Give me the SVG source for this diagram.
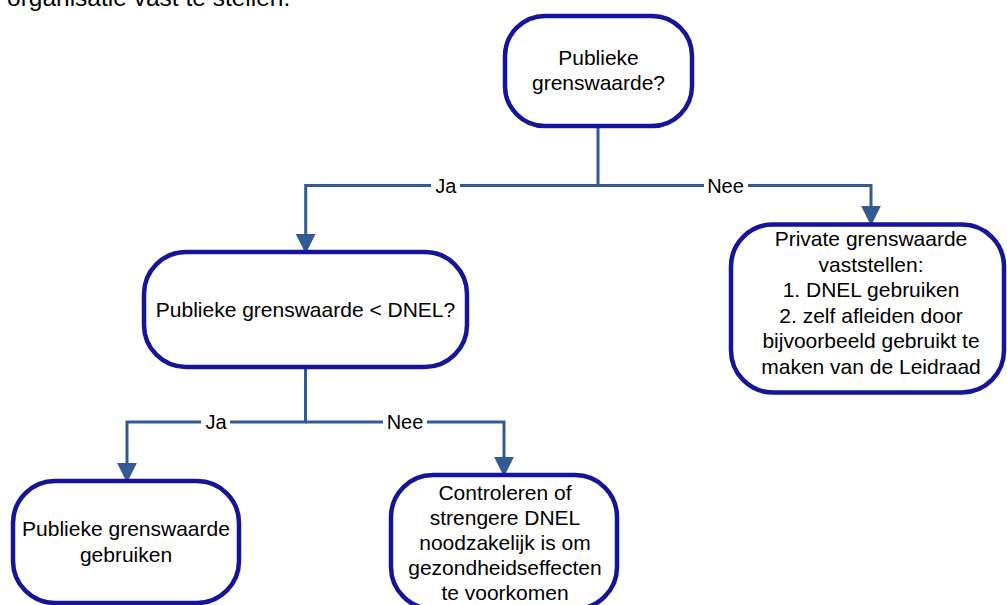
<svg xmlns="http://www.w3.org/2000/svg" width="1007" height="605" viewBox="0 0 1007 605">
  <style>
    .node rect { fill: #ffffff; stroke: #15159a; stroke-width: 4.5; }
    .node text { font-family: "Liberation Sans", Arial, sans-serif; font-size: 21px; fill: #000000; text-anchor: middle; }
    .conn path { fill: none; stroke: #345a94; stroke-width: 3; marker-end: url(#arrow); }
    .lbl rect { fill: #ffffff; }
    .lbl text { font-family: "Liberation Sans", Arial, sans-serif; font-size: 20px; fill: #000000; text-anchor: middle; }
    .intro { font-family: "Liberation Sans", Arial, sans-serif; font-size: 24.5px; fill: #000000; }
  </style>
  <defs>
    <marker id="arrow" markerUnits="userSpaceOnUse" markerWidth="20" markerHeight="20" viewBox="0 0 18 18" refX="2" refY="9" orient="auto">
      <path d="M0,0 L18,9 L0,18 Z" fill="#345a94"/>
    </marker>
  </defs>

  <!-- tail end of the preceding paragraph -->
  <text class="intro" x="7" y="5.5">organisatie vast te stellen.</text>

  <!-- connectors -->
  <g id="connectors" class="conn">
    <path d="M598,126 V185.5 H305.7 V236"/>
    <path d="M598,185.5 H871 V208"/>
    <path d="M305.5,367 V422 H127 V465"/>
    <path d="M305.5,422 H504 V459"/>
  </g>

  <!-- branch labels -->
  <g id="labels" class="lbl">
    <rect x="431" y="176" width="29" height="20"/>
    <text x="445.7" y="192.5">Ja</text>
    <rect x="704" y="176" width="44" height="20"/>
    <text x="725.5" y="192.5">Nee</text>
    <rect x="201" y="412" width="29" height="20"/>
    <text x="216" y="429">Ja</text>
    <rect x="383" y="412" width="44" height="20"/>
    <text x="405" y="429">Nee</text>
  </g>

  <g id="node-publiek" class="node">
    <rect x="505" y="16" width="187" height="110" rx="40" ry="40"/>
    <text x="598.5" y="65">Publieke</text>
    <text x="598.5" y="90">grenswaarde?</text>
  </g>

  <g id="node-vergelijk" class="node">
    <rect x="144" y="252" width="323" height="115" rx="42" ry="42"/>
    <text x="305.5" y="316.5">Publieke grenswaarde &lt; DNEL?</text>
  </g>

  <g id="node-privaat" class="node">
    <rect x="731" y="224.5" width="273" height="168" rx="42" ry="42"/>
    <text x="871" y="246">Private grenswaarde</text>
    <text x="871" y="271.5">vaststellen:</text>
    <text x="871" y="297">1. DNEL gebruiken</text>
    <text x="871" y="322.5">2. zelf afleiden door</text>
    <text x="871" y="348">bijvoorbeeld gebruikt te</text>
    <text x="871" y="373.5">maken van de Leidraad</text>
  </g>

  <g id="node-gebruiken" class="node">
    <rect x="13" y="481" width="226" height="122" rx="42" ry="42"/>
    <text x="126" y="535.5">Publieke grenswaarde</text>
    <text x="126" y="561.5">gebruiken</text>
  </g>

  <g id="node-controleren" class="node">
    <rect x="391" y="475" width="226" height="134" rx="42" ry="42"/>
    <text x="505" y="500">Controleren of</text>
    <text x="505" y="525">strengere DNEL</text>
    <text x="505" y="550">noodzakelijk is om</text>
    <text x="505" y="575">gezondheidseffecten</text>
    <text x="505" y="599.5">te voorkomen</text>
  </g>
</svg>
